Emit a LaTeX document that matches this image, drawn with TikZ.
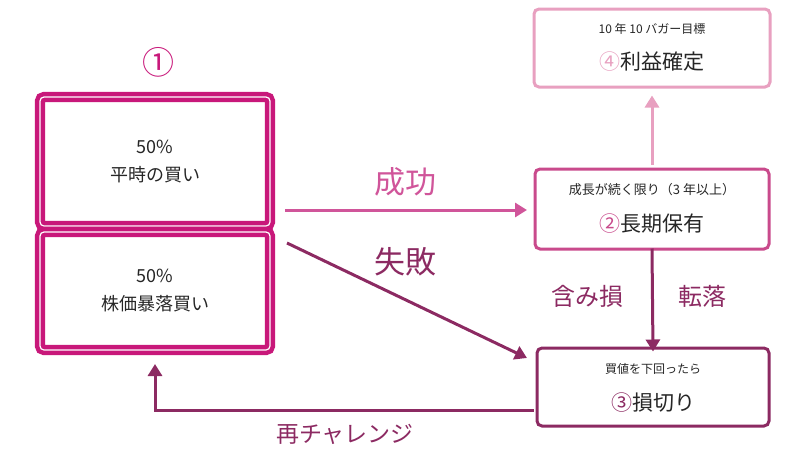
\documentclass[tikz,border=0pt]{standalone}
\usepackage{fontspec}
\setmainfont{Noto Sans CJK JP}
\usetikzlibrary{arrows.meta}
\definecolor{mag}{HTML}{C8187A}
\definecolor{pk}{HTML}{E8A0C0}
\definecolor{md}{HTML}{C94A8C}
\definecolor{dk}{HTML}{8C2A62}
\definecolor{ok}{HTML}{D0559A}
\begin{document}
\begin{tikzpicture}[x=1pt,y=-1pt,
 dbl/.style={draw=mag,line width=4.5pt,double=white,double distance=1.2pt,rounded corners=4pt},
 box/.style={rounded corners=5pt,line width=3pt,fill=white},
 t/.style={font=\fontsize{18}{24}\selectfont,align=center,text=black!85},
 arr/.style={line width=3pt,-{Triangle[length=12pt,width=14pt]}}]
\useasboundingbox (0,0) rectangle (800,461);
\node[text=mag,font=\fontsize{32}{34}\selectfont] (c1) at (158,62) {①};
\draw[dbl] (40,97) rectangle (270,226);
\draw[dbl] (40,232) rectangle (270,350);
\node[t] (b1) at (155,162) {50\%\\[4pt]平時の買い};
\node[t] (b2) at (155,291) {50\%\\[4pt]株価暴落買い};
\node[box,draw=pk,minimum width=236pt,minimum height=78pt] (n4) at (652,48) {};
\node[t,font=\fontsize{12}{14}\selectfont] at (652,29) {10 年 10 バガー目標};
\node[t,font=\fontsize{21}{24}\selectfont] at (652,62) {\textcolor{pk}{④}利益確定};
\node[box,draw=md,minimum width=234pt,minimum height=80pt] (n2) at (652,209) {};
\node[t,font=\fontsize{13}{14}\selectfont] at (652,190) {成長が続く限り（3 年以上）};
\node[t,font=\fontsize{21}{24}\selectfont] at (652,224) {\textcolor{md}{②}長期保有};
\node[box,draw=dk,minimum width=232pt,minimum height=78pt] (n3) at (653,387) {};
\node[t,font=\fontsize{12}{14}\selectfont] at (653,369) {買値を下回ったら};
\node[t,font=\fontsize{21}{24}\selectfont] at (653,403) {\textcolor{dk}{③}損切り};
\coordinate (s1) at (285,210); \coordinate (e1) at (527,210);
\draw[arr,draw=ok] (s1) -- (e1);
\node[text=ok,font=\fontsize{31}{34}\selectfont] at (405,182) {成功};
\coordinate (s2) at (287,243); \coordinate (e2) at (527,358);
\draw[arr,draw=dk] (s2) -- (e2);
\node[text=dk,font=\fontsize{31}{34}\selectfont] at (405,262) {失敗};
\draw[arr,draw=pk] (n2.north) ++(0,-3) -- ([yshift=-7pt]n4.south);
\draw[arr,draw=dk] ([yshift=2pt]n2.south) -- ([yshift=-5pt]n3.north);
\node[text=dk,font=\fontsize{24}{26}\selectfont] at (587,296) {含み損};
\node[text=dk,font=\fontsize{24}{26}\selectfont] at (702,296) {転落};
\coordinate (r1) at (155,410);
\draw[arr,draw=dk] ([xshift=-2pt]n3.west |- r1) -- (r1) -- (155,364);
\node[text=dk,font=\fontsize{23}{26}\selectfont] at (345,434) {再チャレンジ};
\end{tikzpicture}
\end{document}
